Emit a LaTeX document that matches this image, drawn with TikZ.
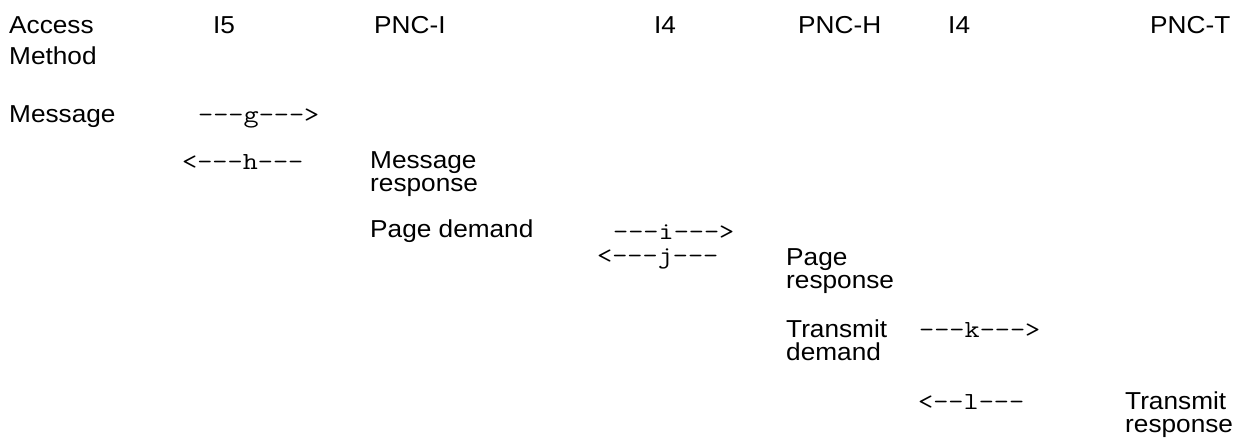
\documentclass[tikz,border=0pt]{standalone}
\usepackage{fontspec}
\setmainfont{Liberation Sans}[FakeStretch=1.07]
\setmonofont{Latin Modern Mono}[FakeStretch=1.2]
\usepackage{tikz}

\tikzset{
  lbl/.style={anchor=base west, inner sep=0pt, align=left,
    font=\fontsize{24.5}{23}\selectfont},
  msg/.style={anchor=base west, inner sep=0pt,
    font=\ttfamily\fontsize{24.5}{23}\selectfont}
}

\begin{document}
\begin{tikzpicture}[x=1pt, y=-1pt]
  \useasboundingbox (0,0) rectangle (1239,439);
  % header row (two-line nodes sit on their last line)
  \node[lbl] (access) at (9,64) {Access\\[8pt]Method};
  \node[lbl] (ifive) at (213,33) {I5};
  \node[lbl] (pnci) at (374,33) {PNC-I};
  \node[lbl] (ifourA) at (654,33) {I4};
  \node[lbl] (pnch) at (798,33) {PNC-H};
  \node[lbl] (ifourB) at (948,33) {I4};
  \node[lbl] (pnct) at (1150,33) {PNC-T};
  % message exchange
  \node[lbl] (message) at (9,122) {Message};
  \node[msg] (g) at (198,122) {---g--->};
  \node[msg] (h) at (182,169) {<---h---};
  \node[lbl] (msgresp) at (370,191) {Message\\response};
  \node[lbl] (pagedem) at (370,237) {Page demand};
  \node[msg] (i) at (613,239) {---i--->};
  \node[msg] (j) at (597,263) {<---j---};
  \node[lbl] (pageresp) at (786,288) {Page\\response};
  \node[lbl] (transdem) at (786,360) {Transmit\\demand};
  \node[msg] (k) at (919,337) {---k--->};
  \node[msg] (l) at (918,409) {<--l---};
  \node[lbl] (transresp) at (1125,432) {Transmit\\response};
\end{tikzpicture}
\end{document}
